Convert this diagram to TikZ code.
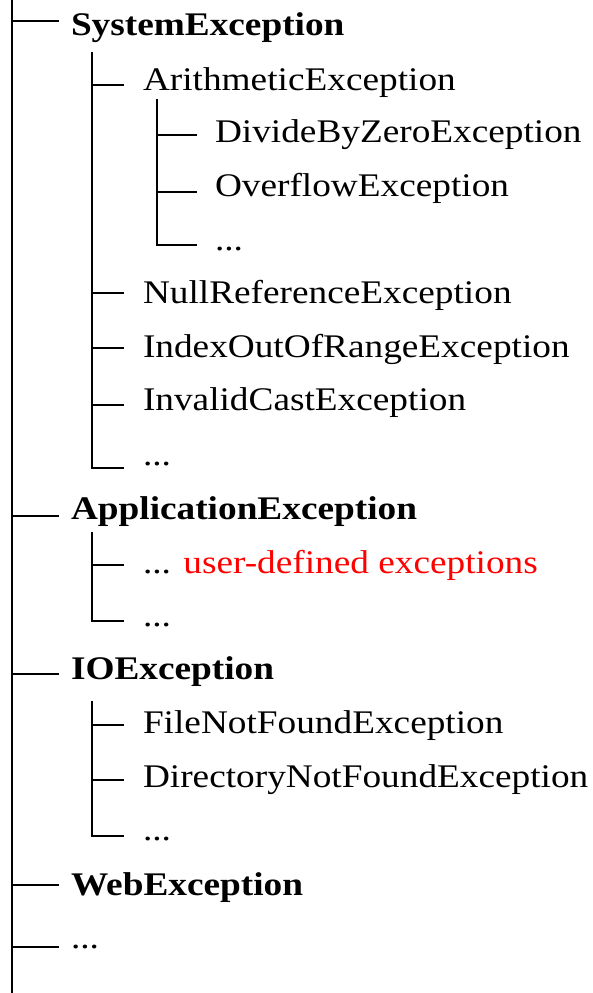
\documentclass[tikz,border=0pt]{standalone}
\usepackage{fontspec}
\setmainfont[FakeStretch=1.13]{Liberation Serif}
\usepackage{xcolor}
\definecolor{userred}{RGB}{255,0,0}
\usetikzlibrary{calc}
\newcommand{\treefont}{\fontsize{33}{40}\selectfont}
\tikzset{
	item/.style={anchor=base west, inner sep=0pt, outer sep=0pt, font=\treefont},
	topitem/.style={item, font=\treefont\bfseries},
	branch/.style={line width=2pt, line cap=rect}
}

\begin{document}
\begin{tikzpicture}[x=1pt, y=-1pt]
	\useasboundingbox (0,0) rectangle (593,993);
	% spines
	\coordinate (top) at (12,0);
	\coordinate (bottom) at (12,993);
	\coordinate (sysspine) at (92,53);
	\coordinate (arspine) at (157,100);
	\coordinate (appspine) at (92,533);
	\coordinate (iospine) at (92,702);

	\node[topitem] (sys) at (71,35) {SystemException};
	\node[item] (ar) at (143,90) {ArithmeticException};
	\node[item] (div) at (215,142) {DivideByZeroException};
	\node[item] (ovf) at (215,196) {OverflowException};
	\node[item] (armore) at (215,250) {...};
	\node[item] (nul) at (143,303) {NullReferenceException};
	\node[item] (idx) at (143,357) {IndexOutOfRangeException};
	\node[item] (inv) at (143,410) {InvalidCastException};
	\node[item] (sysmore) at (143,465) {...};
	\node[topitem] (app) at (71,519) {ApplicationException};
	\node[item] (usr) at (143,573) {... \textcolor{userred}{user-defined exceptions}};
	\node[item] (appmore) at (143,626) {...};
	\node[topitem] (io) at (71,679) {IOException};
	\node[item] (fnf) at (143,733) {FileNotFoundException};
	\node[item] (dnf) at (143,787) {DirectoryNotFoundException};
	\node[item] (iomore) at (143,840) {...};
	\node[topitem] (web) at (71,895) {WebException};
	\node[item] (more) at (71,948) {...};

	\draw[branch] (top) -- (bottom);
	\foreach \n/\dy in {sys/14,app/3,io/5,web/10,more/1}
		\draw[branch] ([xshift=-13pt,yshift=\dy pt]\n.base west) -| (top);
	\foreach \n/\dy in {ar/5,nul/10,idx/9,inv/5,sysmore/-3}
		\draw[branch] ([xshift=-20pt,yshift=\dy pt]\n.base west) -| (sysspine);
	\foreach \n/\dy in {div/7,ovf/4,armore/5}
		\draw[branch] ([xshift=-19pt,yshift=\dy pt]\n.base west) -| (arspine);
	\foreach \n/\dy in {usr/8,appmore/5}
		\draw[branch] ([xshift=-20pt,yshift=\dy pt]\n.base west) -| (appspine);
	\foreach \n/\dy in {fnf/8,dnf/7,iomore/4}
		\draw[branch] ([xshift=-20pt,yshift=\dy pt]\n.base west) -| (iospine);
\end{tikzpicture}
\end{document}
